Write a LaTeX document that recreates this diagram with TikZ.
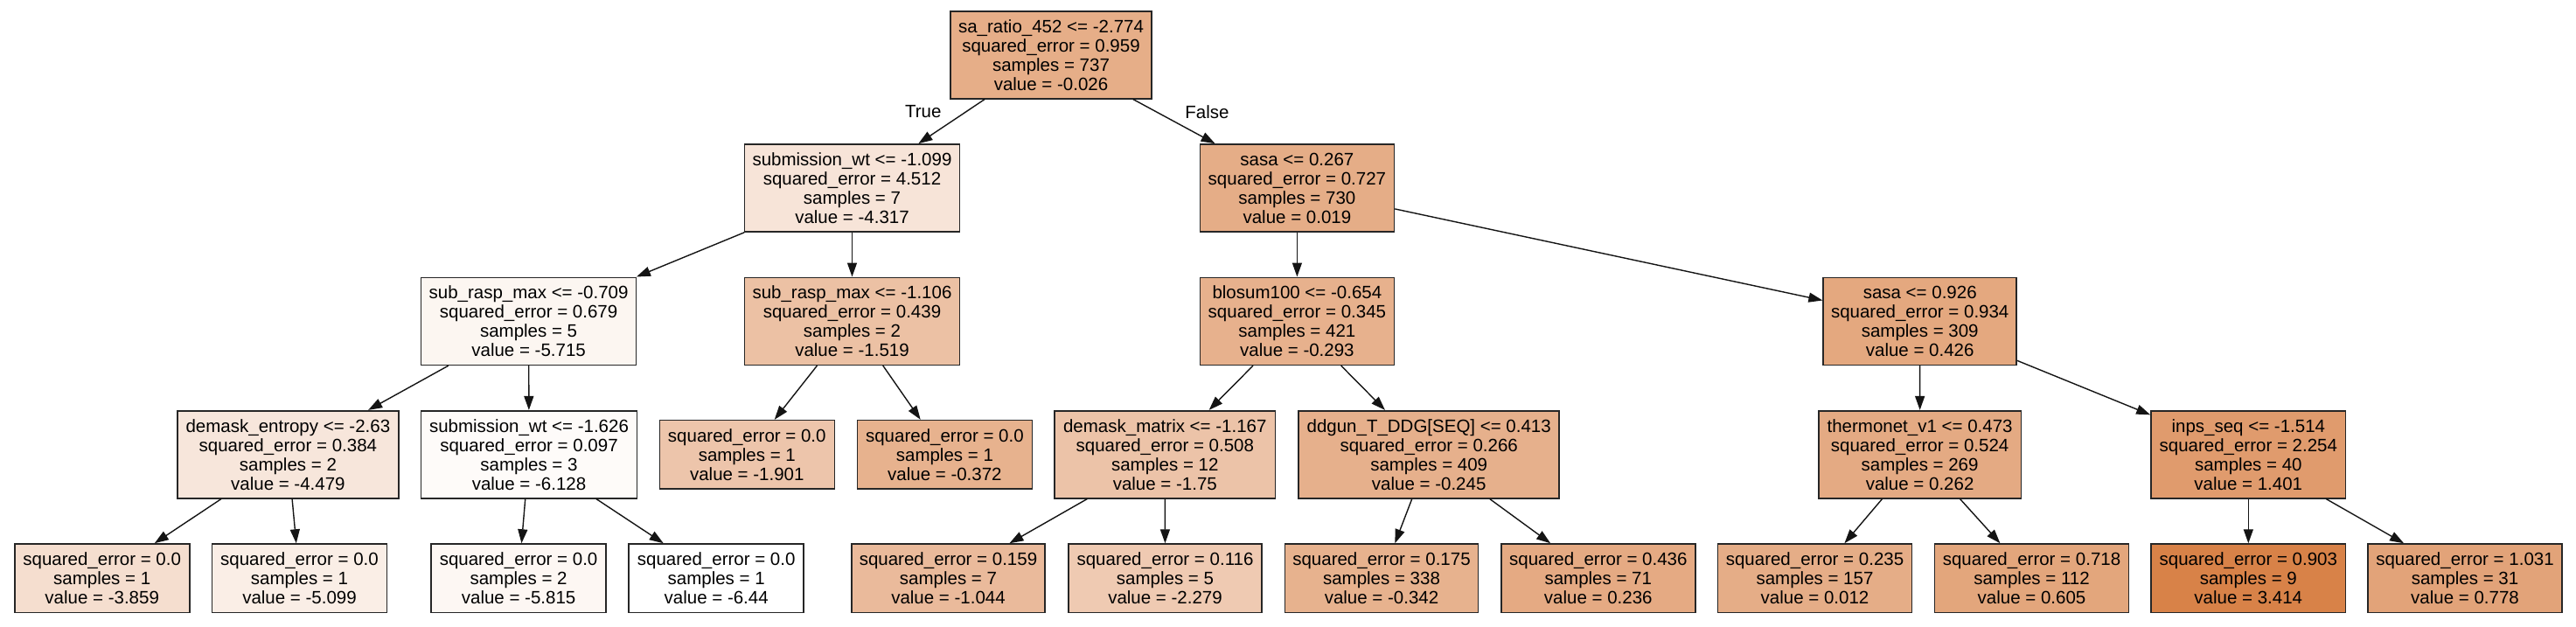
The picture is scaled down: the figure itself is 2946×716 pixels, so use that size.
\documentclass[tikz,border=0pt]{standalone}
\usepackage{fontspec}
\setmainfont{Liberation Sans}
\usetikzlibrary{arrows.meta}
\definecolor{base}{RGB}{216,130,72}
\definecolor{edgec}{RGB}{20,20,20}
\newcommand{\fs}{\fontsize{20.5}{22}\selectfont}
\tikzset{
  box/.style={draw=black!85, line width=1.6pt, rectangle, align=center, font=\fs, inner sep=0pt, minimum height=100pt},
  leaf/.style={box, minimum height=78.3pt},
  edge/.style={draw=edgec, line width=1.4pt, -{Triangle[length=16pt,width=11pt]}},
  lab/.style={font=\fs, inner sep=0pt}
}
\begin{document}
\begin{tikzpicture}[x=1pt,y=-1pt]
\useasboundingbox (0,0) rectangle (2946,716);
% level 0
\node[box, minimum width=230pt, fill=base!65.1!white] (root) at (1202,62.7) {sa\_ratio\_452 <= -2.774\\squared\_error = 0.959\\samples = 737\\value = -0.026};
% level 1
\node[box, minimum width=246pt, fill=base!21.5!white] (sw1) at (974.5,215) {submission\_wt <= -1.099\\squared\_error = 4.512\\samples = 7\\value = -4.317};
\node[box, minimum width=222pt, fill=base!65.5!white] (sasa1) at (1483.4,215) {sasa <= 0.267\\squared\_error = 0.727\\samples = 730\\value = 0.019};
% level 2
\node[box, minimum width=246pt, fill=base!7.4!white] (srm1) at (604.6,367.3) {sub\_rasp\_max <= -0.709\\squared\_error = 0.679\\samples = 5\\value = -5.715};
\node[box, minimum width=246pt, fill=base!49.9!white] (srm2) at (974.5,367.3) {sub\_rasp\_max <= -1.106\\squared\_error = 0.439\\samples = 2\\value = -1.519};
\node[box, minimum width=222pt, fill=base!62.4!white] (blosum) at (1483.4,367.3) {blosum100 <= -0.654\\squared\_error = 0.345\\samples = 421\\value = -0.293};
\node[box, minimum width=221pt, fill=base!69.7!white] (sasa2) at (2195.7,367.3) {sasa <= 0.926\\squared\_error = 0.934\\samples = 309\\value = 0.426};
% level 3
\node[box, minimum width=253pt, fill=base!19.9!white] (dement) at (329.4,519.7) {demask\_entropy <= -2.63\\squared\_error = 0.384\\samples = 2\\value = -4.479};
\node[box, minimum width=247pt, fill=base!3.2!white] (sw2) at (605,519.7) {submission\_wt <= -1.626\\squared\_error = 0.097\\samples = 3\\value = -6.128};
\node[leaf, minimum width=200pt, fill=base!46.1!white] (lfa) at (854.3,519.8) {squared\_error = 0.0\\samples = 1\\value = -1.901};
\node[leaf, minimum width=200pt, fill=base!61.6!white] (lfb) at (1080.4,519.8) {squared\_error = 0.0\\samples = 1\\value = -0.372};
\node[box, minimum width=252.5pt, fill=base!47.6!white] (dmat) at (1332.3,519.7) {demask\_matrix <= -1.167\\squared\_error = 0.508\\samples = 12\\value = -1.75};
\node[box, minimum width=298pt, fill=base!62.9!white] (ddgun) at (1634.2,519.7) {ddgun\_T\_DDG[SEQ] <= 0.413\\squared\_error = 0.266\\samples = 409\\value = -0.245};
\node[box, minimum width=231.5pt, fill=base!68!white] (thermo) at (2195.6,519.7) {thermonet\_v1 <= 0.473\\squared\_error = 0.524\\samples = 269\\value = 0.262};
\node[box, minimum width=222.6pt, fill=base!79.6!white] (inps) at (2571.3,519.7) {inps\_seq <= -1.514\\squared\_error = 2.254\\samples = 40\\value = 1.401};
% level 4
\node[leaf, minimum width=200pt, fill=base!26.2!white] (l1) at (116.7,661.2) {squared\_error = 0.0\\samples = 1\\value = -3.859};
\node[leaf, minimum width=200pt, fill=base!13.6!white] (l2) at (342.5,661.2) {squared\_error = 0.0\\samples = 1\\value = -5.099};
\node[leaf, minimum width=200pt, fill=base!6.3!white] (l3) at (593.1,661.2) {squared\_error = 0.0\\samples = 2\\value = -5.815};
\node[leaf, minimum width=200pt, fill=white] (l4) at (819.2,661.2) {squared\_error = 0.0\\samples = 1\\value = -6.44};
\node[leaf, minimum width=221pt, fill=base!54.8!white] (l5) at (1084.5,661.2) {squared\_error = 0.159\\samples = 7\\value = -1.044};
\node[leaf, minimum width=221pt, fill=base!42.2!white] (l6) at (1332.5,661.2) {squared\_error = 0.116\\samples = 5\\value = -2.279};
\node[leaf, minimum width=221pt, fill=base!61.9!white] (l7) at (1580,661.2) {squared\_error = 0.175\\samples = 338\\value = -0.342};
\node[leaf, minimum width=222pt, fill=base!67.8!white] (l8) at (1827.8,661.2) {squared\_error = 0.436\\samples = 71\\value = 0.236};
\node[leaf, minimum width=222pt, fill=base!65.5!white] (l9) at (2075.5,661.2) {squared\_error = 0.235\\samples = 157\\value = 0.012};
\node[leaf, minimum width=222pt, fill=base!71.5!white] (l10) at (2323.5,661.2) {squared\_error = 0.718\\samples = 112\\value = 0.605};
\node[leaf, minimum width=222.6pt, fill=base] (l11) at (2571.3,661.2) {squared\_error = 0.903\\samples = 9\\value = 3.414};
\node[leaf, minimum width=222pt, fill=base!73.3!white] (l12) at (2819,661.2) {squared\_error = 1.031\\samples = 31\\value = 0.778};
% edges
\draw[edge] (root) -- (sw1);
\draw[edge] (root) -- (sasa1);
\draw[edge] (sw1) -- (srm1);
\draw[edge] (sw1) -- (srm2);
\draw[edge] (srm1) -- (dement);
\draw[edge] (srm1) -- (sw2);
\draw[edge] (srm2) -- (lfa);
\draw[edge] (srm2) -- (lfb);
\draw[edge] (dement) -- (l1);
\draw[edge] (dement) -- (l2);
\draw[edge] (sw2) -- (l3);
\draw[edge] (sw2) -- (l4);
\draw[edge] (sasa1) -- (blosum);
\draw[edge] (sasa1) -- (sasa2);
\draw[edge] (blosum) -- (dmat);
\draw[edge] (blosum) -- (ddgun);
\draw[edge] (dmat) -- (l5);
\draw[edge] (dmat) -- (l6);
\draw[edge] (ddgun) -- (l7);
\draw[edge] (ddgun) -- (l8);
\draw[edge] (sasa2) -- (thermo);
\draw[edge] (sasa2) -- (inps);
\draw[edge] (thermo) -- (l9);
\draw[edge] (thermo) -- (l10);
\draw[edge] (inps) -- (l11);
\draw[edge] (inps) -- (l12);
% branch labels
\node[lab] (tl) at (1055.8,128) {True};
\node[lab] (fl) at (1380.5,128) {False};
\end{tikzpicture}
\end{document}
